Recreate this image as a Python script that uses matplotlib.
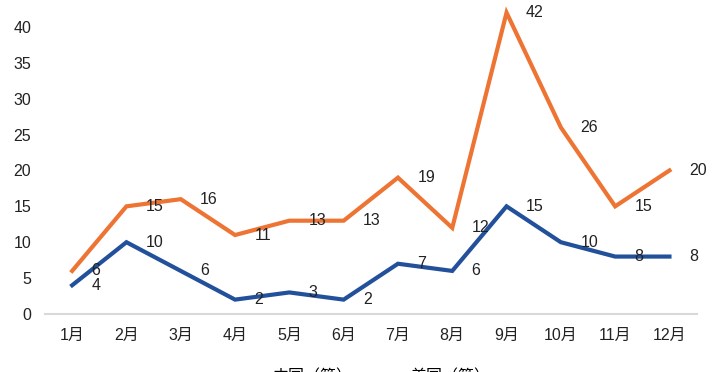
import matplotlib
matplotlib.use('Agg')
import matplotlib.pyplot as plt

plt.rcParams['font.family'] = ['Liberation Sans', 'Noto Sans CJK SC', 'DejaVu Sans']

months = ['1月', '2月', '3月', '4月', '5月', '6月', '7月', '8月', '9月', '10月', '11月', '12月']
china = [4, 10, 6, 2, 3, 2, 7, 6, 15, 10, 8, 8]
usa = [6, 15, 16, 11, 13, 13, 19, 12, 42, 26, 15, 20]
yticks = [0, 5, 10, 15, 20, 25, 30, 35, 40]

blue = '#23509A'
orange = '#EE7434'

fig = plt.figure(figsize=(7.2, 3.72), dpi=100)
ax = fig.add_axes([0.0625, 0.156, 0.905, 0.868])

x = list(range(len(months)))
ax.plot(x, china, color=blue, lw=3, solid_joinstyle='miter', label='中国（箭）', zorder=3)
ax.plot(x, usa, color=orange, lw=3, solid_joinstyle='miter', label='美国（箭）', zorder=3)

for ys in [china, usa]:
    for xi, yi in zip(x, ys):
        ax.annotate(str(yi), (xi, yi), xytext=(14, 0), textcoords='offset points',
                    ha='left', va='center', fontsize=11.5, color='#222222', zorder=4)

ax.set_xlim(-0.5, 11.5)
ax.set_ylim(0, 45)
ax.set_xticks(x)
ax.set_xticklabels(months, fontsize=11.5, color='#222222')
ax.set_yticks(yticks)
ax.set_yticklabels([str(v) for v in yticks], fontsize=11.5, color='#222222')
ax.tick_params(length=0, pad=10)
ax.tick_params(axis='y', pad=10)

for s in ['top', 'right', 'left']:
    ax.spines[s].set_visible(False)
ax.spines['bottom'].set_color('#d9d9d9')
ax.spines['bottom'].set_linewidth(1.5)

fig.legend(loc='center', bbox_to_anchor=(0.495, -0.012), ncol=2, frameon=False,
           fontsize=11.5, handlelength=2.8, handletextpad=0.3, columnspacing=0.5)

fig.savefig('out.png', dpi=100)
